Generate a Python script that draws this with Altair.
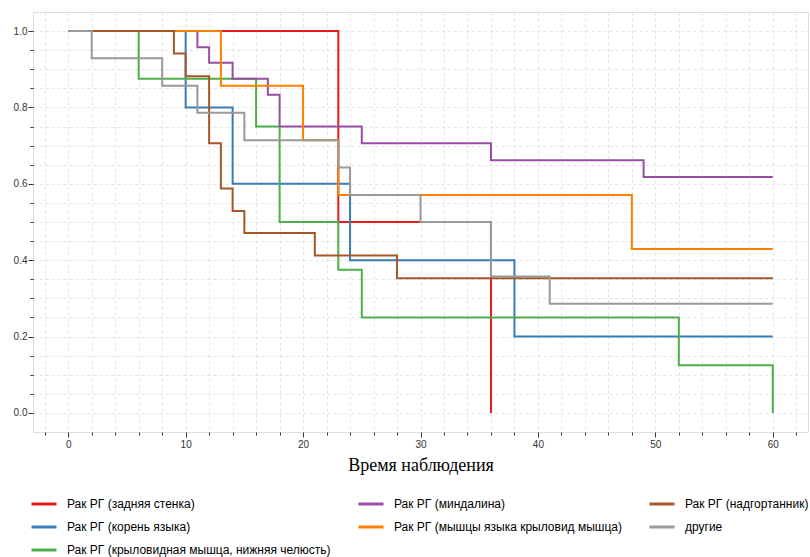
import altair as alt
import pandas as pd

# Survival groups, in drawing order
names = [
    "Рак РГ (задняя стенка)",
    "Рак РГ (корень языка)",
    "Рак РГ (крыловидная мышца, нижняя челюсть)",
    "Рак РГ (миндалина)",
    "Рак РГ (мышцы языка крыловид мышца)",
    "Рак РГ (надгортанник)",
    "другие",
]
colors = ["#e41a1c", "#377eb8", "#4daf4a", "#984ea3", "#ff7f00", "#a65628", "#999999"]

# Kaplan-Meier step points (time, survival) for each group
red_t = [0, 23, 36]
red_s = [1.0, 0.5, 0.0]
blue_t = [0, 10, 14, 24, 38, 60]
blue_s = [1.0, 0.8, 0.6, 0.4, 0.2, 0.2]
green_t = [0, 6, 16, 18, 23, 25, 52, 60]
green_s = [1.0, 0.875, 0.75, 0.5, 0.375, 0.25, 0.125, 0.0]
purple_t = [0, 11, 12, 14, 17, 18, 25, 36, 49, 60]
purple_s = [1.0, 0.958, 0.917, 0.875, 0.833, 0.75, 0.706, 0.662, 0.618, 0.618]
orange_t = [0, 13, 20, 23, 48, 60]
orange_s = [1.0, 0.857, 0.714, 0.571, 0.429, 0.429]
brown_t = [0, 9, 10, 12, 13, 14, 15, 21, 28, 60]
brown_s = [1.0, 0.941, 0.882, 0.706, 0.588, 0.529, 0.471, 0.412, 0.353, 0.353]
grey_t = [0, 2, 8, 11, 15, 23, 24, 30, 36, 41, 60]
grey_s = [1.0, 0.929, 0.857, 0.786, 0.714, 0.643, 0.571, 0.5, 0.357, 0.286, 0.286]

series_t = [red_t, blue_t, green_t, purple_t, orange_t, brown_t, grey_t]
series_s = [red_s, blue_s, green_s, purple_s, orange_s, brown_s, grey_s]

# Tick positions (major every 10 / 0.2, minor every 2 / 0.05)
x_ticks = [-2, 0, 2, 4, 6, 8, 10, 12, 14, 16, 18, 20, 22, 24, 26, 28, 30,
           32, 34, 36, 38, 40, 42, 44, 46, 48, 50, 52, 54, 56, 58, 60, 62]
y_ticks = [0.0, 0.05, 0.1, 0.15, 0.2, 0.25, 0.3, 0.35, 0.4, 0.45, 0.5,
           0.55, 0.6, 0.65, 0.7, 0.75, 0.8, 0.85, 0.9, 0.95, 1.0]

# Order of the legend's colour domain (groups by index into names)
legend_order = [0, 1, 6, 3, 4, 2, 5]
slot_of = {g: k for k, g in enumerate(legend_order)}
slot_keys = [str(k) for k in range(len(legend_order))]
slot_colors = [colors[g] for g in legend_order]
slot_names = [names[g] for g in legend_order]

# One long table; rows follow the drawing order so later groups sit on top
frames = []
for g, (ts, ss) in enumerate(zip(series_t, series_s)):
    frames.append(pd.DataFrame({"t": ts, "s": ss, "key": str(slot_of[g]), "z": g}))
data = pd.concat(frames, ignore_index=True)

label_lookup = "[" + ", ".join("'" + n + "'" for n in slot_names) + "][toNumber(datum.label)]"

grid_style = dict(grid=True, gridDash=[3, 3], gridColor="#dcdcdc", gridWidth=0.8,
                  domain=False, tickColor="#333333", tickWidth=1,
                  labelFont="Liberation Sans", labelFontSize=10, labelColor="#333333",
                  labelOverlap=False, labelFlush=False)

x_enc = alt.X(
    "t:Q",
    scale=alt.Scale(domain=[-3, 63], nice=False, zero=False),
    axis=alt.Axis(
        values=x_ticks,
        labelExpr="datum.value % 10 === 0 ? datum.label : ''",
        tickSize={"condition": {"test": "datum.value % 10 === 0", "value": 5}, "value": 3},
        labelPadding=2,
        title="Время наблюдения",
        titleFont="Liberation Serif",
        titleFontSize=18,
        titleFontWeight="normal",
        titleColor="#000000",
        titlePadding=7,
        **grid_style,
    ),
)
y_enc = alt.Y(
    "s:Q",
    scale=alt.Scale(domain=[-0.05, 1.05], nice=False, zero=False),
    axis=alt.Axis(
        values=y_ticks,
        format=".1f",
        labelExpr="round(datum.value * 100) % 20 === 0 ? datum.label : ''",
        tickSize={"condition": {"test": "round(datum.value * 100) % 20 === 0", "value": 5}, "value": 3},
        labelPadding=1,
        title=None,
        **grid_style,
    ),
)

color_enc = alt.Color(
    "key:N",
    scale=alt.Scale(domain=slot_keys, range=slot_colors),
    legend=alt.Legend(
        orient="none",
        legendX=-3,
        legendY=478,
        columns=3,
        title=None,
        labelExpr=label_lookup,
        symbolType="stroke",
        symbolStrokeWidth=3,
        symbolSize=625,
        labelFont="Liberation Sans",
        labelFontSize=12,
        labelColor="#000000",
        labelOffset=9,
        labelLimit=0,
        columnPadding=21,
        rowPadding=3,
    ),
)

chart = (
    alt.Chart(data)
    .mark_line(interpolate="step-after", strokeWidth=2)
    .encode(x=x_enc, y=y_enc, color=color_enc, order="z:Q")
    .properties(
        width=775,
        height=420,
        padding={"left": 33, "top": 12, "right": 2, "bottom": 125},
        autosize=alt.AutoSizeParams(type="none"),
    )
    .configure_view(stroke="#333333", strokeWidth=1.2)
    .configure(background="white")
)

chart.save("out.html", embed_options={"renderer": "svg", "actions": False})
